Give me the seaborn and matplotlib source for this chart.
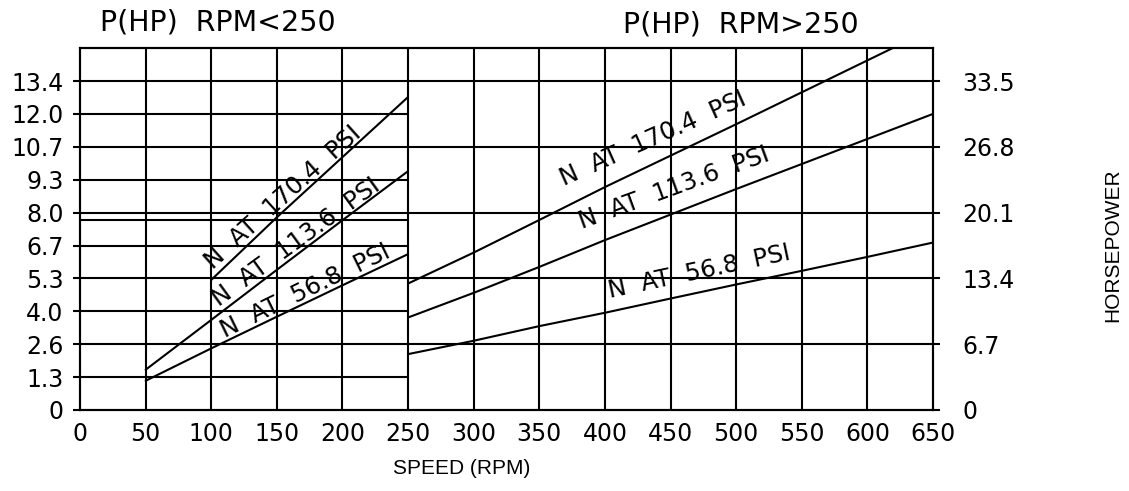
import numpy as np
import pandas as pd
import matplotlib
matplotlib.use("Agg")
import matplotlib.pyplot as plt
import seaborn as sns

# left chart (RPM < 250), values in left-axis units
left_rpm_170 = [100, 150, 200, 250]
left_hp_170 = [5.30, 7.85, 10.30, 12.75]
left_rpm_113 = [50, 100, 150, 200, 250]
left_hp_113 = [1.64, 3.67, 5.71, 7.73, 9.73]
left_rpm_56 = [50, 100, 150, 200, 250]
left_hp_56 = [1.19, 2.51, 3.80, 5.08, 6.35]

# right chart (RPM > 250), values in right-axis units
right_rpm = [250, 300, 350, 400, 450, 500, 550, 600, 650]
right_hp_170 = [12.88, 16.03, 19.35, 22.70, 25.90, 29.10, 32.35, 35.60, 38.85]
right_hp_113 = [9.42, 11.93, 14.57, 17.30, 19.90, 22.50, 25.05, 27.60, 30.15]
right_hp_56 = [5.69, 7.05, 8.54, 9.90, 11.35, 12.78, 14.17, 15.59, 17.05]

x_ticks = [0, 50, 100, 150, 200, 250, 300, 350, 400, 450, 500, 550, 600, 650]
left_ticks = [0, 1.34, 2.68, 4.02, 5.36, 6.70, 8.04, 9.38, 10.72, 12.06, 13.40]
left_labels = ["0", "1.3", "2.6", "4.0", "5.3", "6.7", "8.0", "9.3", "10.7", "12.0", "13.4"]
right_ticks = [0, 6.7, 13.4, 20.1, 26.8, 33.5]
right_labels = ["0", "6.7", "13.4", "20.1", "26.8", "33.5"]
extra_line = 7.74

sns.set_style("white")
plt.rcParams['font.family'] = ['DejaVu Sans']
plt.rcParams['text.color'] = 'black'

left_df = pd.concat([
    pd.DataFrame({"rpm": left_rpm_170, "hp": left_hp_170, "psi": "170.4"}),
    pd.DataFrame({"rpm": left_rpm_113, "hp": left_hp_113, "psi": "113.6"}),
    pd.DataFrame({"rpm": left_rpm_56, "hp": left_hp_56, "psi": "56.8"}),
])
right_df = pd.concat([
    pd.DataFrame({"rpm": right_rpm, "hp": right_hp_170, "psi": "170.4"}),
    pd.DataFrame({"rpm": right_rpm, "hp": right_hp_113, "psi": "113.6"}),
    pd.DataFrame({"rpm": right_rpm, "hp": right_hp_56, "psi": "56.8"}),
])

fig = plt.figure(figsize=(11.29, 4.91), dpi=100)
ax = fig.add_axes([0.0709, 0.165, 0.7555, 0.737])
ax2 = ax.twinx()

lw = 1.5
black = {"170.4": "black", "113.6": "black", "56.8": "black"}
sns.lineplot(data=left_df, x="rpm", y="hp", hue="psi", palette=black, ax=ax,
             lw=lw, legend=False, zorder=5)
sns.lineplot(data=right_df, x="rpm", y="hp", hue="psi", palette=black, ax=ax2,
             lw=lw, legend=False, zorder=5)

ax.set_xlim(0, 650)
ax.set_ylim(0, 14.74)
ax2.set_ylim(0, 36.85)

ax.set_xticks(x_ticks)
ax.set_xticklabels([str(v) for v in x_ticks])
ax.set_yticks(left_ticks)
ax.set_yticklabels(left_labels)
ax2.set_yticks(right_ticks)
ax2.set_yticklabels(right_labels)

# grid: verticals full height, horizontals split between the two charts
ax.grid(False)
ax2.grid(False)
for xv in x_ticks[1:-1]:
    ax.axvline(xv, color="black", lw=lw, zorder=1)
split = 250 / 650
for i, yv in enumerate(left_ticks[1:], start=1):
    ax.axhline(yv, xmin=0, xmax=1 if i % 2 == 0 else split, color="black", lw=lw, zorder=1)
ax.axhline(extra_line, xmin=0, xmax=split, color="black", lw=lw, zorder=1)

for a in (ax, ax2):
    for s in a.spines.values():
        s.set_color("black")
        s.set_linewidth(lw)

ax.tick_params(axis="y", direction="out", length=5, width=lw, pad=7, labelsize=17, colors="black")
ax.tick_params(axis="x", direction="out", length=5, width=lw, pad=4, labelsize=17, colors="black")
ax2.tick_params(axis="y", direction="out", length=5, width=lw, pad=16, labelsize=17, colors="black")
ax.set_xlabel("")
ax.set_ylabel("")
ax2.set_ylabel("")

# curve labels
lab_kw = dict(ha="center", va="center", rotation_mode="anchor", fontsize=17.5, color="black")
ax.text(154.7, 8.67, "N  AT  170.4  PSI", rotation=42, **lab_kw)
ax.text(164.6, 6.83, "N  AT  113.6  PSI", rotation=36, **lab_kw)
ax.text(172.0, 4.83, "N  AT  56.8  PSI", rotation=26, **lab_kw)
ax2.text(437, 27.6, "N  AT  170.4  PSI", rotation=24, **lab_kw)
ax2.text(453, 22.6, "N  AT  113.6  PSI", rotation=20, **lab_kw)
ax2.text(471.6, 14.05, "N  AT  56.8  PSI", rotation=12, **lab_kw)

fig.text(218 / 1129, 1 - 22 / 491, "P(HP)  RPM<250", ha="center", va="center", fontsize=20.5)
fig.text(741 / 1129, 1 - 24 / 491, "P(HP)  RPM>250", ha="center", va="center", fontsize=20.5)
fig.text(462 / 1129, 1 - 468 / 491, "SPEED (RPM)", ha="center", va="center", fontsize=15,
         family=["Liberation Sans", "DejaVu Sans"])
fig.text(1113 / 1129, 1 - 245 / 491, "HORSEPOWER", ha="center", va="center", rotation=90,
         fontsize=15, family=["Liberation Sans", "DejaVu Sans"])

fig.savefig("out.png", dpi=100, facecolor="white")
